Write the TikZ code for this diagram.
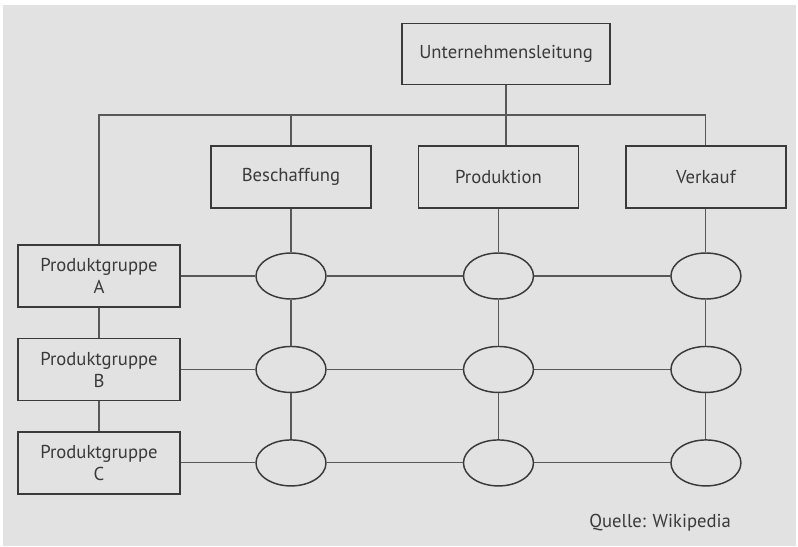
\documentclass[tikz,border=0pt]{standalone}
\usepackage{fontspec}
\setmainfont{PT Sans}
\usetikzlibrary{positioning,shapes.geometric}
\definecolor{bg}{HTML}{E2E2E2}
\definecolor{ink}{HTML}{3A3A3A}
\tikzset{
  font=\fontsize{14}{16.5}\selectfont,
  box/.style={
    draw=ink,
    line width=1.1pt,
    text=ink,
    align=center,
    minimum width=120pt,
    minimum height=46.5pt,
    inner sep=0pt
  },
  group/.style={
    box,
    minimum width=121.5pt
  },
  knot/.style={
    draw=ink,
    line width=1.1pt,
    ellipse,
    minimum width=52.5pt,
    minimum height=34.5pt,
    inner sep=0pt
  },
  link/.style={draw=ink!85, line width=0.8pt}
}

\begin{document}
\begin{tikzpicture}[x=0.75pt, y=-0.75pt]

% page and background
\useasboundingbox (0,0) rectangle (798,546);
\fill[white] (0,0) rectangle (798,546);
\fill[bg] (3,5) rectangle (796,546);

\node[box, minimum width=156pt, minimum height=45.75pt] (ul) at (506,54) {Unternehmensleitung};

% functions
\node[box] (besch) at (291,177) {Beschaffung};
\node[box, right=34.5pt of besch] (prod) {Produktion};
\node[box, right=34.5pt of prod] (verk) {Verkauf};

% product groups
\node[group] (pga) at (99,276) {Produktgruppe\\A};
\node[group, below=22.5pt of pga] (pgb) {Produktgruppe\\B};
\node[group, below=22.5pt of pgb] (pgc) {Produktgruppe\\C};

% matrix cells
\node[knot] (ba) at (besch |- pga) {};
\node[knot] (bb) at (besch |- pgb) {};
\node[knot] (bc) at (besch |- pgc) {};
\node[knot] (pa) at (prod |- pga) {};
\node[knot] (pb) at (prod |- pgb) {};
\node[knot] (pc) at (prod |- pgc) {};
\node[knot] (va) at (verk |- pga) {};
\node[knot] (vb) at (verk |- pgb) {};
\node[knot] (vc) at (verk |- pgc) {};

\coordinate (bus) at (0,115);

\draw[link] (ul.south) -- (ul.south |- prod.north);
\draw[link] (pga.north) |- (verk.north |- bus) -- (verk.north);
\draw[link] (besch.north) -- (besch.north |- bus);

\draw[link] (besch) -- (ba) -- (bb) -- (bc);
\draw[link] (prod) -- (pa) -- (pb) -- (pc);
\draw[link] (verk) -- (va) -- (vb) -- (vc);

\draw[link] (pga) -- (ba) -- (pa) -- (va);
\draw[link] (pgb) -- (bb) -- (pb) -- (vb);
\draw[link] (pgc) -- (bc) -- (pc) -- (vc);
\draw[link] (pga) -- (pgb) -- (pgc);

\node[text=ink, anchor=west, inner sep=0pt] (src) at (589,523) {Quelle: Wikipedia};

\end{tikzpicture}
\end{document}
